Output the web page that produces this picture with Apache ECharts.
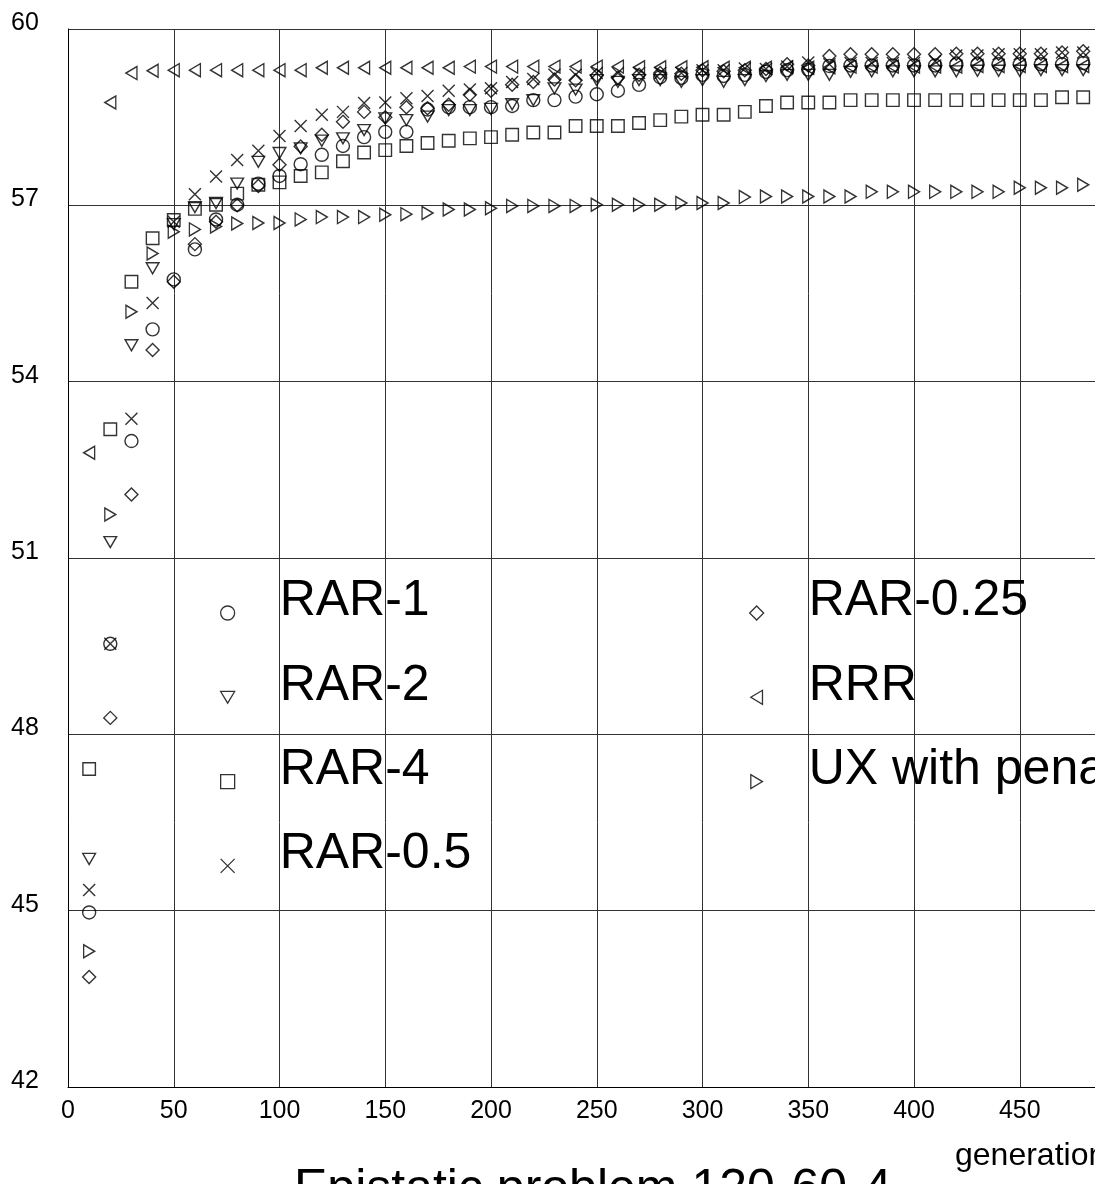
<!DOCTYPE html>
<html><head><meta charset="utf-8">
<script src="https://cdn.jsdelivr.net/npm/echarts@6/dist/echarts.min.js"></script>
<style>html,body{margin:0;padding:0;overflow:hidden;background:#fff}#c{width:1095px;height:1184px}</style>
</head><body><div id="c"></div>
<script>
const generations = [10,20,30,40,50,60,70,80,90,100,110,120,130,140,150,160,170,180,190,200,210,220,230,240,250,260,270,280,290,300,310,320,330,340,350,360,370,380,390,400,410,420,430,440,450,460,470,480];
const rar1 = [44.97,49.54,52.99,54.89,55.74,56.25,56.76,57.01,57.37,57.50,57.70,57.86,58.01,58.16,58.25,58.25,58.63,58.67,58.67,58.67,58.69,58.79,58.79,58.85,58.89,58.95,59.05,59.18,59.17,59.22,59.20,59.22,59.27,59.30,59.31,59.37,59.38,59.38,59.38,59.38,59.38,59.40,59.40,59.40,59.40,59.40,59.40,59.42];
const rar2 = [45.88,51.27,54.62,55.93,56.68,56.97,57.04,57.37,57.74,57.89,57.97,58.10,58.14,58.28,58.48,58.45,58.51,58.62,58.62,58.64,58.72,58.79,58.99,58.97,59.13,59.10,59.13,59.13,59.10,59.13,59.10,59.13,59.20,59.22,59.22,59.22,59.27,59.28,59.28,59.28,59.28,59.28,59.29,59.29,59.29,59.30,59.30,59.30];
const rar4 = [47.41,53.19,55.70,56.44,56.75,56.94,57.01,57.20,57.35,57.39,57.50,57.56,57.75,57.90,57.94,58.01,58.06,58.10,58.14,58.16,58.20,58.24,58.24,58.35,58.35,58.35,58.40,58.45,58.51,58.54,58.54,58.59,58.69,58.75,58.75,58.75,58.79,58.79,58.79,58.79,58.79,58.79,58.79,58.79,58.79,58.79,58.84,58.84];
const rar05 = [45.35,49.54,53.37,55.34,56.72,57.19,57.49,57.77,57.93,58.18,58.35,58.54,58.59,58.74,58.75,58.82,58.86,58.95,58.97,58.99,59.10,59.15,59.22,59.22,59.25,59.25,59.25,59.25,59.25,59.30,59.30,59.33,59.32,59.36,59.43,59.40,59.42,59.42,59.42,59.42,59.45,59.55,59.55,59.57,59.57,59.57,59.60,59.60];
const rar025 = [43.87,48.28,52.08,54.54,55.70,56.34,56.72,57.00,57.33,57.69,58.00,58.20,58.42,58.59,58.50,58.67,58.65,58.71,58.88,58.95,59.05,59.10,59.14,59.13,59.21,59.17,59.22,59.25,59.24,59.30,59.28,59.30,59.32,59.40,59.38,59.54,59.57,59.57,59.57,59.57,59.57,59.58,59.58,59.58,59.58,59.58,59.60,59.62];
const rrr = [52.79,58.75,59.25,59.29,59.30,59.30,59.30,59.30,59.30,59.30,59.30,59.34,59.34,59.34,59.34,59.34,59.34,59.34,59.36,59.36,59.36,59.36,59.36,59.36,59.36,59.36,59.35,59.35,59.35,59.35,59.34,59.34,59.34,59.35,59.34,59.35,59.36,59.36,59.36,59.36,59.36,59.36,59.37,59.37,59.37,59.37,59.37,59.37];
const uxPenalty = [44.31,51.74,55.19,56.18,56.55,56.59,56.64,56.69,56.70,56.70,56.76,56.80,56.80,56.80,56.84,56.85,56.87,56.93,56.93,56.95,56.99,56.99,56.99,56.99,57.01,57.01,57.01,57.01,57.04,57.04,57.04,57.14,57.15,57.15,57.15,57.15,57.15,57.23,57.23,57.23,57.23,57.23,57.23,57.23,57.30,57.30,57.30,57.35];
const seriesNames = ['RAR-1','RAR-2','RAR-4','RAR-0.5','RAR-0.25','RRR','UX with penalty'];
const xTicks = [0,50,100,150,200,250,300,350,400,450,500];
const yTicks = [42,45,48,51,54,57,60];
const titleText = 'Epistatic problem 120-60-4';
const xName = 'generation';

const FONT = '"Liberation Sans", Arial, Helvetica, sans-serif';
const values = [rar1, rar2, rar4, rar05, rar025, rrr, uxPenalty];
const symbols = [
  ['circle', 13],
  ['path://M0,0L12,0L6,10Z', [12.7, 11]],
  ['rect', 12.5],
  ['path://M0,0L10,10M10,0L0,10', 12],
  ['diamond', [13, 13]],
  ['path://M10,0L10,12L0,6Z', [11, 13]],
  ['path://M0,0L0,12L10,6Z', [11, 13]]
];
const series = seriesNames.map((name, k) => ({
  name: name,
  type: 'scatter',
  data: generations.map((g, i) => [g, values[k][i]]),
  symbol: symbols[k][0],
  symbolSize: symbols[k][1],
  itemStyle: { color: 'transparent', borderColor: '#000', borderWidth: 1.4 },
  emphasis: { disabled: true },
  silent: true,
  animation: false
}));

const legendCommon = {
  orient: 'vertical', padding: 0, itemWidth: 14, itemHeight: 14, itemGap: 11.3,
  selectedMode: false,
  formatter: '{t|{name}}',
  itemStyle: { color: 'transparent', borderColor: '#000', borderWidth: 1.3 },
  textStyle: {
    fontSize: 50, fontFamily: FONT, color: '#000',
    rich: { t: { fontSize: 50, lineHeight: 50, fontFamily: FONT, color: '#000', padding: [0, 0, 23, 40] } }
  }
};

const chart = echarts.init(document.getElementById('c'), null, { renderer: 'canvas' });
chart.setOption({
  animation: false,
  backgroundColor: '#fff',
  title: [{
    text: titleText, left: 294, top: 1165, padding: 0,
    textStyle: { fontSize: 50, lineHeight: 50, fontWeight: 'normal', color: '#000', fontFamily: FONT }
  }],
  legend: [
    Object.assign({}, legendCommon, { left: 220, top: 576.5, data: seriesNames.slice(0, 4) }),
    Object.assign({}, legendCommon, { left: 749, top: 576.5, data: seriesNames.slice(4) })
  ],
  grid: { left: 68, top: 29, width: 1057.5, height: 1058, containLabel: false, outerBoundsMode: 'none' },
  xAxis: {
    type: 'value', min: xTicks[0], max: xTicks[xTicks.length - 1], interval: xTicks[1] - xTicks[0],
    axisLine: { show: true, lineStyle: { color: '#000', width: 1 } },
    axisTick: { show: false },
    axisLabel: { fontSize: 25, lineHeight: 25, color: '#000', margin: 12, fontFamily: FONT, hideOverlap: false },
    splitLine: { show: true, lineStyle: { color: '#333', width: 1 } },
    name: xName, nameLocation: 'end', nameGap: -170.5, nameMoveOverlap: false,
    nameTextStyle: { fontSize: 32, lineHeight: 32, color: '#000', align: 'left', verticalAlign: 'top', padding: [53, 0, 0, 0], fontFamily: FONT }
  },
  yAxis: {
    type: 'value', min: yTicks[0], max: yTicks[yTicks.length - 1], interval: yTicks[1] - yTicks[0],
    axisLine: { show: true, lineStyle: { color: '#000', width: 1 } },
    axisTick: { show: false },
    axisLabel: { fontSize: 25, lineHeight: 12, color: '#000', align: 'left', margin: 57, verticalAlign: 'bottom', fontFamily: FONT },
    splitLine: { show: true, lineStyle: { color: '#333', width: 1 } }
  },
  series: series
});
</script></body></html>
